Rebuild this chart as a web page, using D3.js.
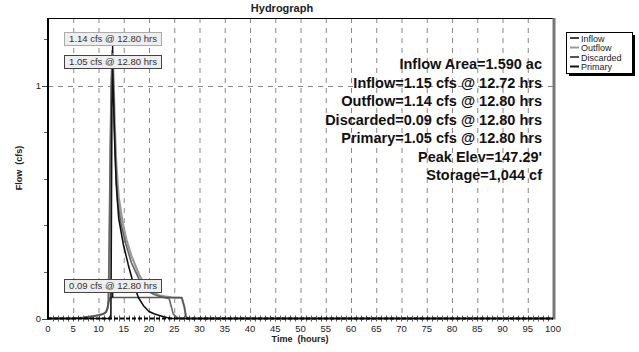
<!DOCTYPE html>
<html><head><meta charset="utf-8">
<script src="https://cdn.jsdelivr.net/npm/d3@7"></script>
<style>body{margin:0;background:#fff}svg{display:block;font-family:"Liberation Sans",Arial,sans-serif}</style>
</head><body><svg id="c" width="639" height="352"></svg>
<script>
// ---- data ----
const inflowT = [0,5,7,9,10,11,11.5,11.8,11.95,12.1,12.3,12.5,12.72,12.9,13.1,13.4,13.8,14.5,15.4,16.5,18,19,20,21,22,23,24,24.3,24.8,25.5,26,100];
const inflowV = [0,0,0.004,0.01,0.014,0.02,0.028,0.045,0.08,0.3,0.7,1.0,1.15,1.05,0.85,0.65,0.5,0.4,0.32,0.24,0.17,0.14,0.115,0.103,0.096,0.09,0.085,0.06,0.02,0.005,0,0];
const outflowT = [0,5,7,9,10,11,11.5,11.8,12.0,12.2,12.4,12.6,12.8,13.0,13.2,13.5,14,14.8,15.5,16.5,18,19,20,21,22,23,24,24.5,26.5,27,27.3,27.6,100];
const outflowV = [0,0,0.004,0.01,0.014,0.02,0.028,0.045,0.07,0.3,0.7,1.0,1.14,1.02,0.85,0.67,0.52,0.41,0.34,0.27,0.19,0.15,0.125,0.11,0.1,0.095,0.092,0.09,0.088,0.05,0.01,0,0];
const discT = [0,5,7,9,10,11,11.5,11.8,12.0,12.3,12.8,26.5,27,27.3,27.6,100];
const discV = [0,0,0.004,0.01,0.014,0.02,0.028,0.045,0.07,0.09,0.09,0.09,0.05,0.01,0,0];
const primT = [0,12.45,12.55,12.65,12.8,13.0,13.2,13.5,14,14.9,15.9,16.9,17.9,18.9,20,21,22.2,23.5,24.5,100];
const primV = [0,0,0.4,0.9,1.05,0.93,0.76,0.58,0.43,0.32,0.23,0.15,0.09,0.055,0.03,0.02,0.012,0.004,0,0];
const seriesNames = ["Inflow","Outflow","Discarded","Primary"];
const xTicks = d3.range(0,101,5);
const yMajor = [0,1];
const yMinor = [0.2,0.4,0.6,0.8,1.2];
const stats = ["Inflow Area=1.590 ac","Inflow=1.15 cfs @ 12.72 hrs","Outflow=1.14 cfs @ 12.80 hrs","Discarded=0.09 cfs @ 12.80 hrs","Primary=1.05 cfs @ 12.80 hrs","Peak Elev=147.29'","Storage=1,044 cf"];
const callouts = [{t:"1.14 cfs @ 12.80 hrs",x:12.8,v:1.14},{t:"1.05 cfs @ 12.80 hrs",x:12.8,v:1.05},{t:"0.09 cfs @ 12.80 hrs",x:12.8,v:0.09}];

const svg = d3.select("#c");
const L=48,R=553,T=18,B=318.5;
const x = d3.scaleLinear([0,100],[L,R]);
const y = d3.scaleLinear([0,1.29],[B,T]);

// grid
svg.append("g").selectAll("line").data(xTicks.filter(d=>d>0&&d<100)).join("line")
  .attr("x1",d=>x(d)+0.5).attr("x2",d=>x(d)+0.5).attr("y1",T).attr("y2",B)
  .attr("stroke","#888").attr("stroke-dasharray","5,5");
svg.append("line").attr("x1",L).attr("x2",R).attr("y1",Math.round(y(1))+0.5).attr("y2",Math.round(y(1))+0.5)
  .attr("stroke","#888").attr("stroke-dasharray","5,5");

// frame
svg.append("line").attr("x1",L).attr("x2",R).attr("y1",T+0.5).attr("y2",T+0.5).attr("stroke","#000");
svg.append("line").attr("x1",R+1).attr("x2",R+1).attr("y1",T).attr("y2",B+1).attr("stroke","#777").attr("stroke-width",3);

// y axis ticks
svg.append("g").selectAll("line").data(yMinor).join("line")
  .attr("x1",L-4).attr("x2",L).attr("y1",d=>Math.round(y(d))+0.5).attr("y2",d=>Math.round(y(d))+0.5).attr("stroke","#666");
svg.append("g").selectAll("line").data(yMajor).join("line")
  .attr("x1",L-6).attr("x2",L).attr("y1",d=>Math.round(y(d))+0.5).attr("y2",d=>Math.round(y(d))+0.5).attr("stroke","#444");
svg.append("g").selectAll("text").data(yMajor).join("text")
  .attr("x",L-7).attr("y",d=>y(d)+3.5).attr("text-anchor","end").attr("font-size",9.5).attr("fill","#222").text(d=>d);

// x axis ticks
svg.append("g").selectAll("line").data(d3.range(1,100)).join("line")
  .attr("x1",d=>Math.round(x(d))+0.5).attr("x2",d=>Math.round(x(d))+0.5).attr("y1",B-3).attr("y2",B+3).attr("stroke","#555");
svg.append("g").selectAll("text").data(xTicks).join("text")
  .attr("x",d=>x(d)).attr("y",B+13).attr("text-anchor","middle").attr("font-size",9.5).attr("fill","#222").text(d=>d);

// series
const line = d3.line().x(d=>x(d[0])).y(d=>y(d[1]));
const zip=(t,v)=>t.map((d,i)=>[d,v[i]]);
const sers = [
  {n:"Outflow",d:zip(outflowT,outflowV),c:"#999",w:2.2},
  {n:"Inflow",d:zip(inflowT,inflowV),c:"#666",w:1.6},
  {n:"Discarded",d:zip(discT,discV),c:"#555",w:1.4},
  {n:"Primary",d:zip(primT,primV),c:"#111",w:1.6}
];
svg.append("g").selectAll("path").data(sers).join("path")
  .attr("d",s=>line(s.d)).attr("fill","none").attr("stroke",s=>s.c).attr("stroke-width",s=>s.w).attr("stroke-linejoin","round");

// axis lines
svg.append("line").attr("x1",L).attr("x2",R).attr("y1",B).attr("y2",B).attr("stroke","#000").attr("stroke-width",2).attr("stroke-dasharray","4,2");
svg.append("line").attr("x1",L).attr("x2",L).attr("y1",T).attr("y2",B+1).attr("stroke","#000").attr("stroke-width",2);

// callouts
const boxY=[32,55,279];
const cg = svg.append("g").selectAll("g").data(callouts).join("g");
cg.append("line").attr("x1",d=>x(d.x)).attr("x2",d=>x(d.x)).attr("y1",(d,i)=>boxY[i]+14).attr("y2",d=>y(d.v)).attr("stroke","#111").attr("stroke-width",1.5);
cg.append("rect").attr("x",64.5).attr("y",(d,i)=>boxY[i]+0.5).attr("width",97).attr("height",13)
  .attr("fill","#eee").attr("stroke",(d,i)=>i==0?"#aaa":"#444");
cg.append("text").attr("x",113).attr("y",(d,i)=>boxY[i]+10).attr("text-anchor","middle").attr("font-size",9.5).attr("fill","#333").text(d=>d.t);

// stats
svg.append("g").selectAll("text").data(stats).join("text")
  .attr("x",542).attr("y",(d,i)=>69+i*18.5).attr("text-anchor","end").attr("font-size",14.5).attr("font-weight","bold").attr("fill","#111").text(d=>d);

// title & axis labels
svg.append("text").attr("x",282).attr("y",12).attr("text-anchor","middle").attr("font-size",11).attr("font-weight","bold").attr("fill","#222").text("Hydrograph");
svg.append("text").attr("x",300).attr("y",342).attr("text-anchor","middle").attr("font-size",9).attr("font-weight","bold").attr("fill","#222").attr("xml:space","preserve").text("Time  (hours)");
svg.append("text").attr("transform","translate(22,168) rotate(-90)").attr("text-anchor","middle").attr("font-size",9).attr("font-weight","bold").attr("fill","#222").attr("xml:space","preserve").text("Flow  (cfs)");

// legend
const lg = svg.append("g");
lg.append("rect").attr("x",569).attr("y",35).attr("width",66).attr("height",41).attr("fill","#000");
lg.append("rect").attr("x",566.5).attr("y",32.5).attr("width",66).attr("height",41).attr("fill","#fff").attr("stroke","#000");
const legC = {Inflow:"#444",Outflow:"#999",Discarded:"#555",Primary:"#111"};
const li = lg.selectAll("g").data(seriesNames).join("g").attr("transform",(d,i)=>`translate(0,${38+i*9.5})`);
li.append("line").attr("x1",570).attr("x2",579).attr("stroke",d=>legC[d]).attr("stroke-width",2);
li.append("text").attr("x",581).attr("y",3.5).attr("font-size",9).attr("fill","#222").text(d=>d);
</script></body></html>
